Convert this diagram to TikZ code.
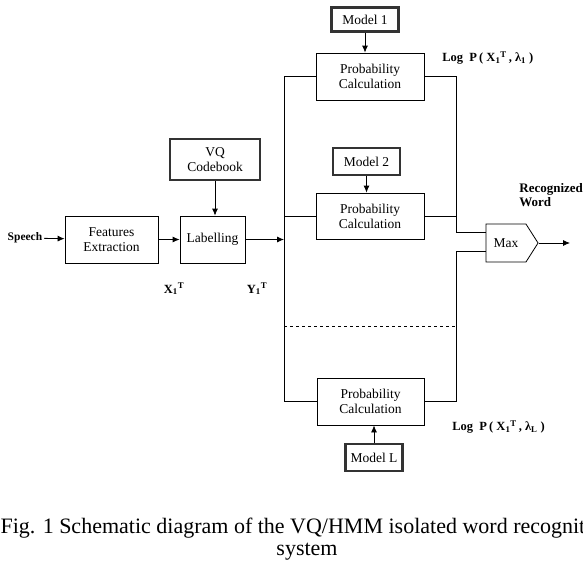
\documentclass[tikz,border=0pt]{standalone}
\usepackage{fontspec}
\setmainfont{Liberation Serif}
\usetikzlibrary{calc,positioning}
\usetikzlibrary{backgrounds}
\usetikzlibrary{shapes.symbols}
\usetikzlibrary{arrows.meta}
\tikzset{
  block node/.style={
    draw, rectangle, align=center, inner sep=0pt,
    font=\fontsize{13.5}{15}\selectfont
  },
  model node/.style={
    block node, line width=2.2pt, draw=black!80
  },
  bold label/.style={
    inner sep=0pt, font=\fontsize{12.5}{14}\selectfont\bfseries
  },
  >={Latex[length=7pt,width=6pt]}
}

\begin{document}
\begin{tikzpicture}[x=1pt, y=-1pt, line width=0.8pt,
    background rectangle/.style={fill=white}, show background rectangle, inner frame sep=0pt]
    \path[use as bounding box] (0,0) rectangle (583,574);
    % front end
    \draw (25,238) node[bold label, inner sep=1.5pt, font=\fontsize{11.5}{13}\selectfont\bfseries] (speech) {Speech};
    \draw (111.5,239.5) node[block node, minimum width=93pt, minimum height=47pt] (features) {Features\\Extraction};
    \draw (212.5,239.5) node[block node, minimum width=65pt, minimum height=47pt] (labelling) {Labelling};
    \draw (215,159.5) node[model node, minimum width=90pt, minimum height=41pt] (codebook) {VQ\\Codebook};
    \draw (174,289) node[bold label] (xseq) {X\textsubscript{1}\textsuperscript{T}};
    \draw (257,289) node[bold label] (yseq) {Y\textsubscript{1}\textsuperscript{T}};
    % one branch per word model
    \draw (370,76.5) node[block node, minimum width=108pt, minimum height=47pt] (prob1) {Probability\\Calculation};
    \draw (370,216) node[block node, minimum width=108pt, minimum height=46pt] (prob2) {Probability\\Calculation};
    \draw (370.5,401.5) node[block node, minimum width=107pt, minimum height=47pt] (probL) {Probability\\Calculation};
    \draw (365,19.5) node[model node, minimum width=67pt, minimum height=24pt] (model1) {Model 1};
    \draw (366.5,161.5) node[model node, minimum width=67pt, minimum height=27pt] (model2) {Model 2};
    \draw (374,457.5) node[model node, minimum width=57pt, minimum height=27pt] (modelL) {Model L};
    \draw (442,58) node[bold label, anchor=west] (score1) {Log\ \ P\,(\ X\textsubscript{1}\textsuperscript{T}\,,\ λ\textsubscript{1}\ )};
    \draw (452,427) node[bold label, anchor=west] (scoreL) {Log\ \ P\,(\ X\textsubscript{1}\textsuperscript{T}\,,\ λ\textsubscript{L}\ )};
    % decision
    \draw (506,243) node[draw, signal, signal to=east, signal pointer angle=115, inner sep=0pt,
        minimum width=52pt, minimum height=38pt, font=\fontsize{13.5}{15}\selectfont] (max) {Max};
    \draw (519,183) node[bold label, anchor=north west, align=left, font=\fontsize{13}{14}\selectfont\bfseries] (word) {Recognized\\Word};
    \draw (307,518) node[anchor=north, inner sep=0pt, align=center, font=\fontsize{22}{22}\selectfont] (caption) {Fig. 1 Schematic diagram of the VQ/HMM isolated word recognition\\system};

    \coordinate (busL) at (284,0);
    \coordinate (busR) at (456,0);
    \coordinate (dashL) at (284,326);
    \coordinate (dashR) at (456,326);
    \coordinate (in1) at ($(max.west)+(0,-11)$);
    \coordinate (in2) at ($(max.west)+(0,8)$);
    \coordinate (out) at (570,243);

    \draw[->] (speech) -- (features);
    \draw[->] (features) -- (labelling);
    \draw[->] (codebook.south) -- (codebook.south |- labelling.north);
    \draw[->] (labelling.east) -- (labelling.east -| busL);
    \draw (prob1.west) -| (busL |- probL.west) -- (probL.west);
    \draw (prob2.west) -- (prob2.west -| busL);
    \draw[->] (model1.south) -- (model1.south |- prob1.north);
    \draw[->] (model2.south) -- (model2.south |- prob2.north);
    \draw[->] (modelL.north) -- (modelL.north |- probL.south);
    \draw (prob1.east) -| (busR |- in1) -- (in1);
    \draw (prob2.east) -- (prob2.east -| busR);
    \draw (probL.east) -| (busR |- in2) -- (in2);
    \draw[dashed, line width=0.6pt] (dashL) -- (dashR);
    \draw[->] (max.east) -- (out);
\end{tikzpicture}
\end{document}
